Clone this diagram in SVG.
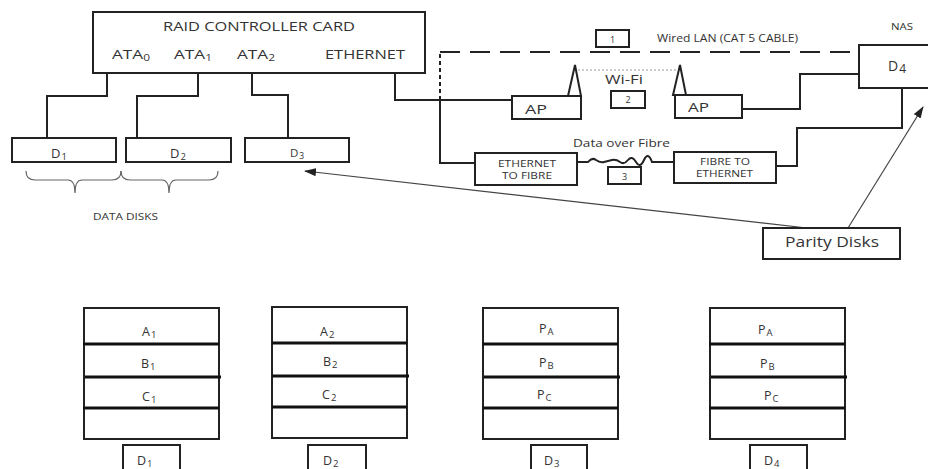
<svg xmlns="http://www.w3.org/2000/svg" width="928" height="469" viewBox="0 0 928 469">
<defs>
<marker id="arr" markerWidth="12" markerHeight="8" refX="11" refY="4" orient="auto" markerUnits="userSpaceOnUse">
<path d="M0,0 L12,4 L0,8 z" fill="#222"/>
</marker>
<style>
.t{font-family:"Open Sans","Liberation Sans",sans-serif;fill:#333;}
.s{font-size:9.5px;}
.box{fill:#fff;stroke:#222;stroke-width:2;}
.ln{fill:none;stroke:#222;stroke-width:2;}
.row{stroke:#111;stroke-width:3;}
.thin{fill:none;stroke:#444;stroke-width:1.2;}
.brace{fill:none;stroke:#666;stroke-width:1.2;}
</style>
</defs>
<rect width="928" height="469" fill="#fff"/>

<g id="connectors">
<path class="ln" d="M107,73 V96 H47 V138"/>
<path class="ln" d="M198,73 V96 H137 V138"/>
<path class="ln" d="M252,73 V95 H288 V138"/>
<path class="ln" d="M395,73 V100 H512"/>
<path class="ln" d="M440,100 V163 H475"/>
<path class="ln" stroke-dasharray="4 3" d="M440,100 V52"/>
<path class="ln" stroke-dasharray="20 10" d="M440,52 H853"/>
<path fill="none" stroke="#999" stroke-width="1" stroke-dasharray="2 2" d="M578,70 H678"/>
<path class="ln" stroke-width="1.5" d="M577,162 H588 q4,-5 8,-2 t8,2 t8,-2 t8,2 t8,-2 t8,2 t8,-2 t8,2 H675"/>
<path class="ln" d="M742,109 H800 V74 H859"/>
<path class="ln" d="M776,166 H797 V128 H902 V88"/>
<path class="thin" marker-end="url(#arr)" d="M807,228 L305,171"/>
<path class="thin" marker-end="url(#arr)" d="M848,228 L923,107"/>
<path class="brace" d="M26,171 Q26,180 35,180 H68 Q75,180 75,193 Q75,180 82,180 H112 Q121,180 121,171"/>
<path class="brace" d="M121,171 Q121,180 130,180 H162 Q169,180 169,193 Q169,180 176,180 H209 Q218,180 218,171"/>
</g>

<g id="raid">
<rect class="box" x="93" y="12" width="332" height="61"/>
<text class="t" x="163" y="31" font-size="13" textLength="192" lengthAdjust="spacingAndGlyphs">RAID CONTROLLER CARD</text>
<text class="t" x="112" y="59" font-size="13" textLength="38" lengthAdjust="spacingAndGlyphs">ATA<tspan font-size="9" dy="2">0</tspan></text>
<text class="t" x="174" y="59" font-size="13" textLength="38" lengthAdjust="spacingAndGlyphs">ATA<tspan font-size="9" dy="2">1</tspan></text>
<text class="t" x="237" y="59" font-size="13" textLength="38" lengthAdjust="spacingAndGlyphs">ATA<tspan font-size="9" dy="2">2</tspan></text>
<text class="t" x="325" y="59" font-size="13" textLength="80" lengthAdjust="spacingAndGlyphs">ETHERNET</text>
</g>

<g id="d1"><rect class="box" x="12" y="138" width="104" height="24"/>
<text class="t" x="51" y="158" font-size="13">D<tspan class="s" dx="1" dy="2">1</tspan></text></g>
<g id="d2"><rect class="box" x="126" y="138" width="105" height="24"/>
<text class="t" x="170" y="158" font-size="13">D<tspan class="s" dx="1" dy="2">2</tspan></text></g>
<g id="d3"><rect class="box" x="245" y="138" width="104" height="24"/>
<text class="t" x="290" y="157" font-size="11.5">D<tspan font-size="8.5" dx="1" dy="2">3</tspan></text></g>

<g id="data-disks"><text class="t" x="93" y="220" font-size="9.5" textLength="65" lengthAdjust="spacingAndGlyphs">DATA DISKS</text></g>

<g id="label1"><rect class="box" stroke-width="1.5" x="596" y="30" width="33" height="17"/>
<text class="t" x="612.5" y="43" font-size="9" text-anchor="middle">1</text></g>
<g id="wired-lan"><text class="t" x="657" y="42" font-size="10" textLength="141" lengthAdjust="spacingAndGlyphs">Wired LAN (CAT 5 CABLE)</text></g>

<g id="nas"><text class="t" x="891" y="30" font-size="8.5" textLength="22" lengthAdjust="spacingAndGlyphs">NAS</text>
<rect class="box" x="859" y="45" width="80" height="43"/>
<text class="t" x="888" y="71" font-size="14">D<tspan font-size="12" dx="1" dy="2">4</tspan></text></g>

<g id="ap1"><rect class="box" x="512" y="96" width="69" height="23"/>
<polygon class="ln" points="568,96 575,65 581,96"/>
<text class="t" x="525" y="114" font-size="13" textLength="22" lengthAdjust="spacingAndGlyphs">AP</text></g>
<g id="ap2"><rect class="box" x="675" y="95" width="67" height="23"/>
<polygon class="ln" points="673,95 680,65 686,95"/>
<text class="t" x="688" y="112" font-size="13" textLength="21" lengthAdjust="spacingAndGlyphs">AP</text></g>

<g id="wifi"><text class="t" x="605" y="84" font-size="12" textLength="38" lengthAdjust="spacingAndGlyphs">Wi-Fi</text></g>
<g id="label2"><rect class="box" stroke-width="1.5" x="611" y="91" width="34" height="17"/>
<text class="t" x="628" y="103" font-size="9" text-anchor="middle">2</text></g>

<g id="data-over-fibre"><text class="t" x="573" y="147" font-size="11" textLength="97" lengthAdjust="spacingAndGlyphs">Data over Fibre</text></g>
<g id="eth2fibre"><rect class="box" x="475" y="153" width="102" height="32"/>
<text class="t" x="498" y="167" font-size="9" textLength="58" lengthAdjust="spacingAndGlyphs">ETHERNET</text>
<text class="t" x="502" y="179" font-size="9" textLength="50" lengthAdjust="spacingAndGlyphs">TO FIBRE</text></g>
<g id="label3"><rect class="box" stroke-width="1.5" x="608" y="167" width="33" height="17"/>
<text class="t" x="624.5" y="180" font-size="9" text-anchor="middle">3</text></g>
<g id="fibre2eth"><rect class="box" x="674" y="152" width="102" height="31"/>
<text class="t" x="700" y="165" font-size="9" textLength="50" lengthAdjust="spacingAndGlyphs">FIBRE TO</text>
<text class="t" x="696" y="177" font-size="9" textLength="57" lengthAdjust="spacingAndGlyphs">ETHERNET</text></g>

<g id="parity"><rect class="box" stroke="#666" stroke-width="1.5" x="763" y="228" width="137" height="31"/>
<text class="t" x="785" y="247" font-size="14" textLength="94" lengthAdjust="spacingAndGlyphs">Parity Disks</text></g>

<g id="table1"><rect class="box" x="84" y="308" width="135" height="131"/>
<line class="row" x1="83" y1="344" x2="219" y2="344"/>
<line class="row" x1="85" y1="377" x2="221" y2="377"/>
<line class="row" x1="83" y1="408" x2="219" y2="408"/>
<text class="t" x="142" y="336" font-size="12.5">A<tspan class="s" dx="1" dy="2">1</tspan></text>
<text class="t" x="141" y="368" font-size="12.5">B<tspan class="s" dx="1" dy="2">1</tspan></text>
<text class="t" x="142" y="401" font-size="12.5">C<tspan class="s" dx="1" dy="2">1</tspan></text></g>

<g id="table2"><rect class="box" x="272" y="307" width="135" height="131"/>
<line class="row" x1="272" y1="343" x2="407" y2="343"/>
<line class="row" x1="272" y1="376" x2="409" y2="376"/>
<line class="row" x1="272" y1="407" x2="407" y2="407"/>
<text class="t" x="320" y="336" font-size="12.5">A<tspan class="s" dx="1" dy="2">2</tspan></text>
<text class="t" x="323" y="366" font-size="12.5">B<tspan class="s" dx="1" dy="2">2</tspan></text>
<text class="t" x="322" y="399" font-size="12.5">C<tspan class="s" dx="1" dy="2">2</tspan></text></g>

<g id="table3"><rect class="box" x="483" y="308" width="135" height="131"/>
<line class="row" x1="482" y1="344" x2="618" y2="344"/>
<line class="row" x1="484" y1="377" x2="620" y2="377"/>
<line class="row" x1="482" y1="408" x2="618" y2="408"/>
<text class="t" x="539" y="333" font-size="12.5">P<tspan class="s" dx="1" dy="2">A</tspan></text>
<text class="t" x="539" y="367" font-size="12.5">P<tspan class="s" dx="1" dy="2">B</tspan></text>
<text class="t" x="537" y="399" font-size="12.5">P<tspan class="s" dx="1" dy="2">C</tspan></text></g>

<g id="table4"><rect class="box" x="710" y="308" width="135" height="131"/>
<line class="row" x1="709" y1="344" x2="845" y2="344"/>
<line class="row" x1="711" y1="377" x2="847" y2="377"/>
<line class="row" x1="709" y1="408" x2="845" y2="408"/>
<text class="t" x="758" y="334" font-size="12.5">P<tspan class="s" dx="1" dy="2">A</tspan></text>
<text class="t" x="760" y="368" font-size="12.5">P<tspan class="s" dx="1" dy="2">B</tspan></text>
<text class="t" x="764" y="400" font-size="12.5">P<tspan class="s" dx="1" dy="2">C</tspan></text></g>

<g id="label-d1"><rect class="box" x="123" y="445" width="57" height="28"/>
<text class="t" x="137" y="465" font-size="12.5">D<tspan class="s" dx="1" dy="2">1</tspan></text></g>
<g id="label-d2"><rect class="box" x="308" y="445" width="58" height="28"/>
<text class="t" x="323" y="465" font-size="12.5">D<tspan class="s" dx="1" dy="2">2</tspan></text></g>
<g id="label-d3"><rect class="box" x="531" y="445" width="56" height="28"/>
<text class="t" x="544" y="465" font-size="12.5">D<tspan class="s" dx="1" dy="2">3</tspan></text></g>
<g id="label-d4"><rect class="box" x="750" y="445" width="57" height="28"/>
<text class="t" x="764" y="465" font-size="12.5">D<tspan class="s" dx="1" dy="2">4</tspan></text></g>
</svg>
